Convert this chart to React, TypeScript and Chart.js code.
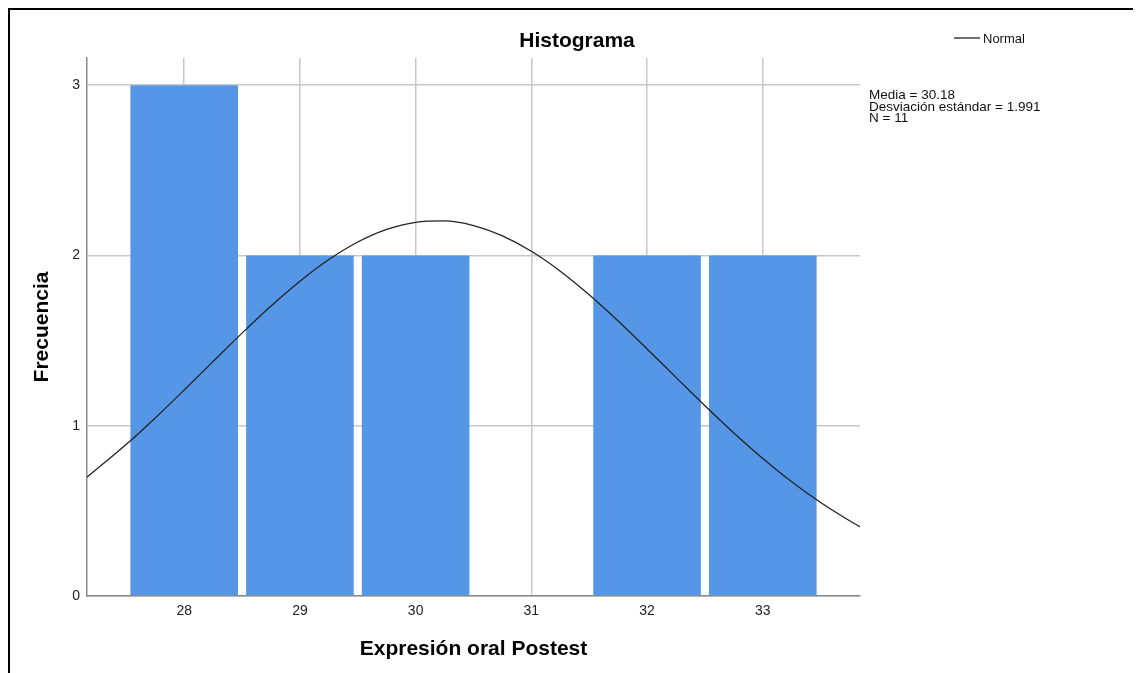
import React, { useEffect, useRef } from "react";
import { Chart, registerables } from "chart.js";

Chart.register(...registerables);

// Histogram bins (value) and frequencies
const binValues = [28, 29, 30, 31, 32, 33];
const frequencies = [3, 2, 2, 0, 2, 2];

// Normal curve points
const curveX = [27.16, 27.5, 27.75, 28, 28.25, 28.5, 28.75, 29, 29.25, 29.5, 29.75, 30, 30.25, 30.5, 30.75, 31, 31.25, 31.5, 31.75, 32, 32.25, 32.5, 32.75, 33, 33.25, 33.5, 33.75, 33.84];
const curveY = [0.698, 0.891, 1.046, 1.21, 1.378, 1.544, 1.703, 1.849, 1.976, 2.079, 2.153, 2.195, 2.203, 2.176, 2.115, 2.025, 1.908, 1.769, 1.615, 1.451, 1.284, 1.118, 0.958, 0.808, 0.671, 0.549, 0.442, 0.407];

const statsLines = ["Media = 30.18", "Desviación estándar = 1.991", "N = 11"];
const legendLabel = "Normal";
const chartTitle = "Histograma";
const xTitle = "Expresión oral Postest";
const yTitle = "Frecuencia";

const FONT = "'Liberation Sans', Arial, sans-serif";

const overlayPlugin = {
  id: "overlay",
  afterDraw(chart: any) {
    const ctx = chart.ctx;
    ctx.save();
    // title
    ctx.fillStyle = "#000";
    ctx.font = `bold 21px ${FONT}`;
    ctx.textAlign = "center";
    ctx.textBaseline = "alphabetic";
    ctx.fillText(chartTitle, 567, 36.5);
    // legend
    ctx.strokeStyle = "#222";
    ctx.lineWidth = 1.3;
    ctx.beginPath();
    ctx.moveTo(944, 28);
    ctx.lineTo(970, 28);
    ctx.stroke();
    ctx.fillStyle = "#111";
    ctx.font = `13px ${FONT}`;
    ctx.textAlign = "left";
    ctx.fillText(legendLabel, 973, 32.5);
    // stats
    ctx.font = `13.5px ${FONT}`;
    statsLines.forEach((t, i) => {
      ctx.fillText(t, 859, 89 + i * 11.5);
    });
    ctx.restore();
  },
};

export default function App() {
  const ref = useRef<HTMLCanvasElement | null>(null);
  useEffect(() => {
    document.body.style.overflow = "hidden";
    document.documentElement.style.overflow = "hidden";
    if (!ref.current) return;
    const chart = new Chart(ref.current, {
      type: "bar",
      data: {
        datasets: [
          {
            type: "line",
            label: legendLabel,
            data: curveX.map((x, i) => ({ x, y: curveY[i] })),
            borderColor: "#222",
            borderWidth: 1.3,
            pointRadius: 0,
            tension: 0.4,
            cubicInterpolationMode: "monotone",
            fill: false,
            order: 0,
          } as any,
          {
            type: "bar",
            label: "Frecuencia",
            data: binValues.map((x, i) => ({ x, y: frequencies[i] })),
            backgroundColor: "#5596E6",
            borderWidth: 0,
            barPercentage: 0.93,
            categoryPercentage: 1,
            order: 1,
          } as any,
        ],
      },
      options: {
        responsive: false,
        animation: false,
        layout: { padding: { left: 0, right: 281, top: 48, bottom: 0 } },
        plugins: {
          legend: { display: false },
          tooltip: { enabled: false },
          title: { display: false },
        },
        scales: {
          x: {
            type: "linear",
            min: 27.16,
            max: 33.84,
            offset: false,
            grid: { color: "#c8c8c8", lineWidth: 1.5, drawTicks: false, offset: false },
            border: { color: "#8a8a8a", width: 1.5 },
            ticks: { stepSize: 1, includeBounds: false, color: "#222", font: { family: FONT, size: 14 }, padding: 7 },
            title: {
              display: true,
              text: xTitle,
              color: "#000",
              font: { family: FONT, size: 21, weight: "bold" },
              padding: { top: 0, bottom: 11 },
            },
            afterFit: (s: any) => {
              s.height = 77;
            },
          },
          y: {
            min: 0,
            max: 3.16,
            grid: { color: "#c8c8c8", lineWidth: 1.5, drawTicks: false },
            border: { color: "#8a8a8a", width: 1.5 },
            ticks: { stepSize: 1, includeBounds: false, color: "#222", font: { family: FONT, size: 14 }, padding: 7 },
            title: {
              display: true,
              text: yTitle,
              color: "#000",
              font: { family: FONT, size: 21, weight: "bold" },
              padding: { top: 20, bottom: 0 },
            },
            afterFit: (s: any) => {
              s.width = 77;
            },
          },
        },
      } as any,
      plugins: [overlayPlugin],
    });
    return () => chart.destroy();
  }, []);
  return (
    <div
      style={{
        position: "relative",
        width: 1133,
        height: 665,
        boxSizing: "border-box",
        borderTop: "2px solid #000",
        borderLeft: "2px solid #000",
        background: "#fff",
      }}
    >
      <canvas ref={ref} width={1131} height={663} style={{ display: "block", width: 1131, height: 663 }} />
    </div>
  );
}
